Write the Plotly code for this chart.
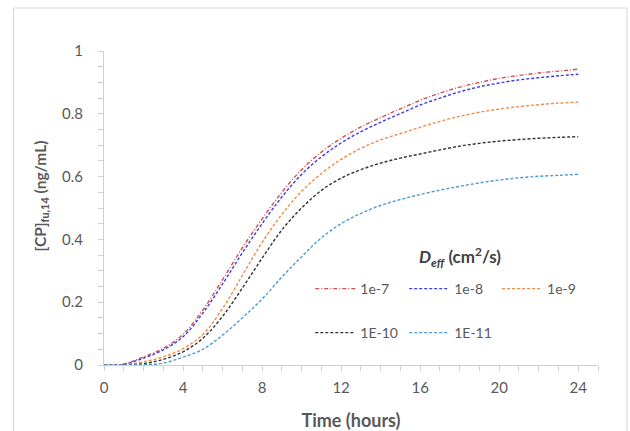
import plotly.graph_objects as go

hours = list(range(0, 25))
names = ["1e-7", "1e-8", "1e-9", "1E-10", "1E-11"]
d_1e7 = [0, 0.003, 0.026, 0.053, 0.098, 0.175, 0.272, 0.373, 0.465, 0.55, 0.622, 0.678, 0.722, 0.758,
         0.788, 0.816, 0.843, 0.866, 0.885, 0.90, 0.913, 0.922, 0.93, 0.936, 0.942]
d_1e8 = [0, 0.002, 0.022, 0.048, 0.09, 0.165, 0.258, 0.357, 0.45, 0.535, 0.607, 0.663, 0.707, 0.743,
         0.773, 0.801, 0.828, 0.85, 0.87, 0.886, 0.898, 0.908, 0.915, 0.921, 0.926]
d_1e9 = [0, 0.001, 0.01, 0.026, 0.052, 0.097, 0.18, 0.285, 0.39, 0.48, 0.553, 0.61, 0.655, 0.69,
         0.717, 0.737, 0.757, 0.776, 0.792, 0.805, 0.815, 0.823, 0.829, 0.834, 0.837]
d_1e10 = [0, 0, 0.004, 0.018, 0.042, 0.085, 0.155, 0.245, 0.34, 0.43, 0.50, 0.556, 0.595, 0.622,
          0.643, 0.659, 0.672, 0.685, 0.697, 0.706, 0.713, 0.718, 0.722, 0.725, 0.727]
d_1e11 = [0, 0, 0.001, 0.006, 0.025, 0.05, 0.095, 0.15, 0.21, 0.28, 0.345, 0.405, 0.45, 0.483,
          0.508, 0.527, 0.543, 0.557, 0.569, 0.58, 0.589, 0.596, 0.601, 0.604, 0.607]
series = [d_1e7, d_1e8, d_1e9, d_1e10, d_1e11]
colors = ["#D05050", "#3C3CE6", "#F08A4B", "#333333", "#4A9AD8"]
dashes = ["4px,2px,1px,2px", "3px,2px", "3px,2px", "3px,2px", "3px,2px"]

FONT = "Lato"
GRAY = "#595959"
AX = "#D0D0D0"

L, R, T, B = 103.5, 32, 51, 66
PW, PH = 630 - L - R, 431 - T - B

def px(x):
    return (x - L) / PW

def py(y):
    return (431 - B - y) / PH

# legend entry anchor positions (pixels): left of legend box, row centre
leg_pos = [(310, 289), (404, 289), (497, 289), (310, 333), (404, 333)]

fig = go.Figure()
layout_legends = {}
for i, (n, ys, c, d) in enumerate(zip(names, series, colors, dashes)):
    key = "legend" if i == 0 else f"legend{i + 1}"
    fig.add_trace(go.Scatter(x=hours, y=ys, name=n, mode="lines",
                             line=dict(color=c, width=1.4, dash=d, shape="spline", smoothing=1.0),
                             legend=key))
    lx, ly = leg_pos[i]
    layout_legends[key] = dict(x=px(lx), y=py(ly), xanchor="left", yanchor="middle",
                               itemwidth=40, bgcolor="rgba(0,0,0,0)", borderwidth=0,
                               font=dict(size=14, color=GRAY, family=FONT))

fig.update_layout(
    width=630, height=431,
    margin=dict(l=L, r=R, t=T, b=B, autoexpand=False),
    plot_bgcolor="white", paper_bgcolor="white",
    font=dict(family=FONT, color=GRAY, size=14),
    xaxis=dict(range=[0, 25], dtick=4, tick0=0, showgrid=False, zeroline=False,
               showline=True, linecolor=AX, linewidth=1,
               ticks="outside", ticklen=5, tickcolor=AX,
               minor=dict(dtick=1, ticks="outside", ticklen=5, tickcolor=AX),
               tickfont=dict(size=15, color=GRAY), ticklabelstandoff=4,
               title=dict(text="<b>Time (hours)</b>", font=dict(size=18, color=GRAY), standoff=19)),
    yaxis=dict(range=[0, 1], dtick=0.2, showgrid=False, zeroline=False,
               showline=True, linecolor=AX, linewidth=1,
               ticks="outside", ticklen=5, tickcolor=AX,
               minor=dict(dtick=0.05, ticks="outside", ticklen=5, tickcolor=AX),
               tickfont=dict(size=15, color=GRAY), ticklabelstandoff=12),
    showlegend=True,
    **layout_legends,
)

# y-axis title (placed like the original, slightly above centre)
fig.add_annotation(xref="paper", yref="paper", x=px(40), y=py(196),
                   text="<b>[CP]<sub>fu,14</sub> (ng/mL)</b>", showarrow=False, textangle=-90,
                   font=dict(size=15.5, color=GRAY), xanchor="center", yanchor="middle")

# legend title
fig.add_annotation(xref="paper", yref="paper", x=px(460), y=py(257),
                   text="<b><i>D<sub>eff</sub></i> (cm<sup>2</sup>/s)</b>", showarrow=False,
                   font=dict(size=17, color="#404040"), xanchor="center", yanchor="middle")

# outer frame
fig.add_shape(type="rect", xref="paper", yref="paper",
              x0=px(13), x1=px(627), y0=py(440), y1=py(8),
              line=dict(color="#D6D6D6", width=1), layer="above")

fig.write_html("out.html", config={"displayModeBar": False},
               post_script="document.body.style.margin='0px';")
